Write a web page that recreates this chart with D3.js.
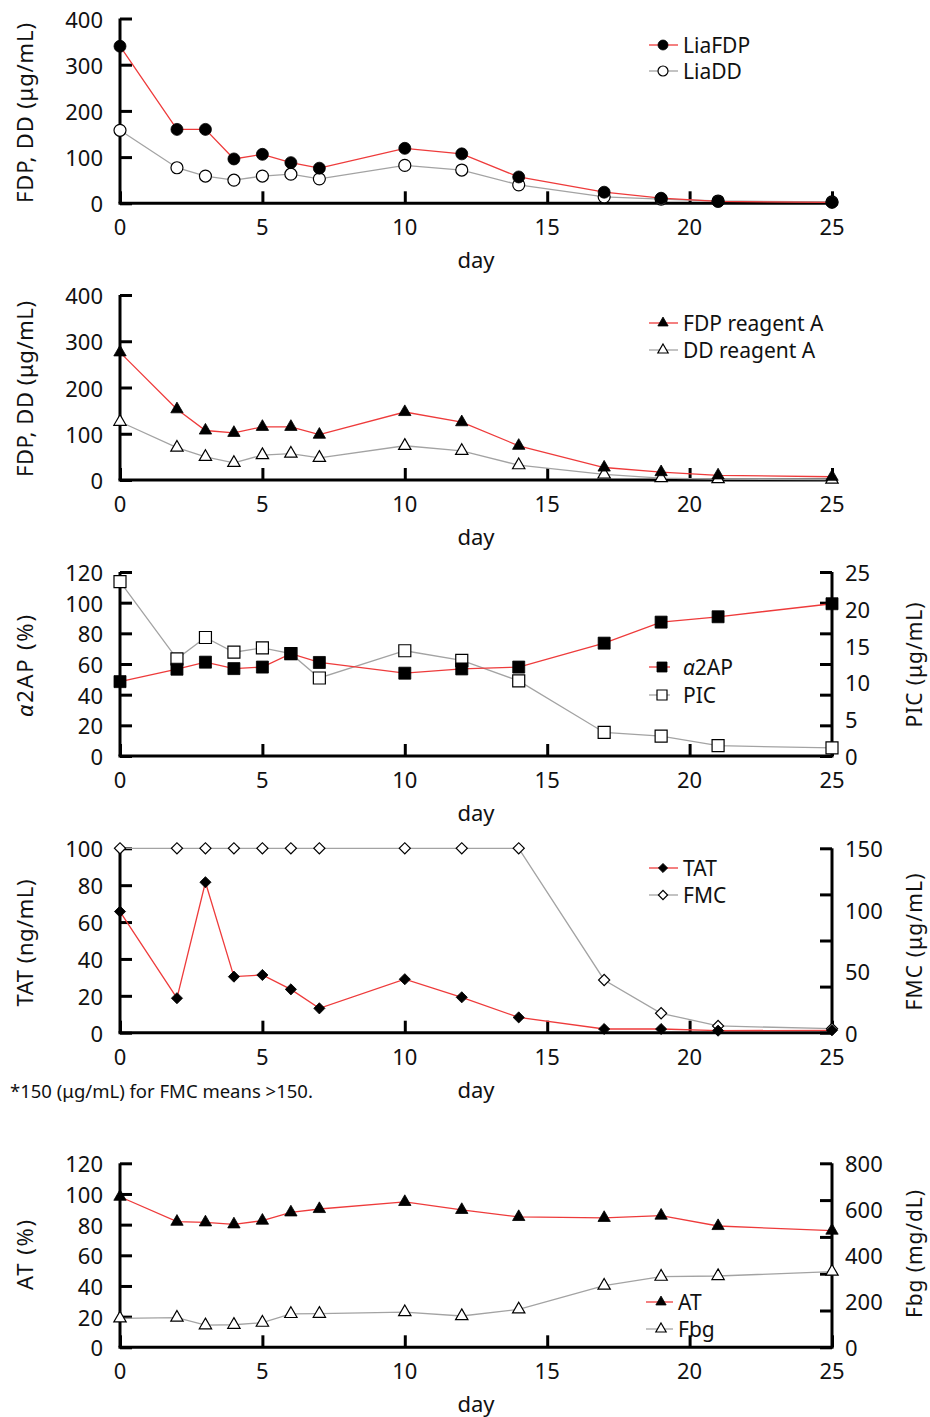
<!DOCTYPE html>
<html><head><meta charset="utf-8">
<script src="https://cdn.jsdelivr.net/npm/d3@7"></script>
<style>
body{margin:0;background:#fff}
text{font-family:"Noto Sans",sans-serif;fill:#111}
</style>
</head><body>
<svg id="c" width="930" height="1417"></svg>
<script>
// ---------- data ----------
const days = [0,2,3,4,5,6,7,10,12,14,17,19,21,25];
const xTickValues = [0,5,10,15,20,25];

const liaFDP = [340,160,160,96,106,88,76,119,107,57,24,11,4,2];
const liaDD  = [158,77,59,50,59,63,53,82,72,40,14,9,5,3];

const fdpReagentA = [276,153,107,102,115,115,98,147,125,74,27,17,10,7];
const ddReagentA  = [126,70,50,37,54,57,48,74,63,32,12,4,2,1];

const a2AP = [48.5,56.6,61.2,57,58,66.8,61,54,56.8,58,73.6,87.3,90.8,99.3];
const pic  = [23.7,13.2,16.1,14.1,14.7,13.9,10.6,14.3,13,10.2,3.2,2.7,1.4,1.1];

const tat = [65.7,18.7,81.6,30.4,31.3,23.5,13.2,29,19.2,8.3,2,2,1.1,1.3];
const fmc = [150,150,150,150,150,150,150,150,150,150,42.9,15.8,5.5,3.3];

const at  = [98.2,81.9,81.5,80.2,82.6,88,90.2,94.8,89.6,85,84.4,85.9,79.1,76.1];
const fbg = [126,129,96,98,107,145,146,153,136,165,268,307,310,329];

const ticksFDP = [0,100,200,300,400];
const ticks120 = [0,20,40,60,80,100,120];
const ticks100 = [0,20,40,60,80,100];
const ticksPIC = [0,5,10,15,20,25];
const ticksFMC = [0,50,100,150];
const ticksFbg = [0,200,400,600,800];

// ---------- layout ----------
const RED = "#ee3b3b", GRAY = "#a3a3a3";
const X0 = 120, X1 = 832, FS = 22;
const svg = d3.select("#c");
const x = d3.scaleLinear().domain([0,25]).range([X0, X1]);

const panels = [
  {top:18.5, bottom:203.3, left:[0,400], lt:ticksFDP, ylabel:"FDP, DD (μg/mL)", ylY:113, ylLen:180,
   series:[{name:"LiaDD", v:liaDD, c:GRAY, m:"circle", f:false},
           {name:"LiaFDP", v:liaFDP, c:RED, m:"circle", f:true}],
   leg:{x1:649,x2:678,mx:663,tx:683,y:[45,71]}, legOrder:[1,0]},
  {top:295, bottom:480, left:[0,400], lt:ticksFDP, ylabel:"FDP, DD (μg/mL)", ylY:389, ylLen:176,
   series:[{name:"DD reagent A", v:ddReagentA, c:GRAY, m:"tri", f:false},
           {name:"FDP reagent A", v:fdpReagentA, c:RED, m:"tri", f:true}],
   leg:{x1:649,x2:678,mx:663,tx:683,y:[323,350]}, legOrder:[1,0]},
  {top:572, bottom:756, left:[0,120], lt:ticks120, right:[0,25], rt:ticksPIC, rdiv:6,
   ylabel:"α2AP (%)", ylY:666, ylLen:102, rlabel:"PIC (μg/mL)", rlY:665, rlLen:125,
   series:[{name:"PIC", v:pic, c:GRAY, m:"square", f:false, ax:"r"},
           {name:"α2AP", v:a2AP, c:RED, m:"square", f:true}],
   leg:{x1:649,x2:670,mx:662,tx:683,y:[667,695]}, legOrder:[1,0]},
  {top:848.3, bottom:1032.7, left:[0,100], lt:ticks100, right:[0,150], rt:ticksFMC, rdiv:4,
   ylabel:"TAT (ng/mL)", ylY:943, ylLen:127, rlabel:"FMC (μg/mL)", rlY:942, rlLen:137,
   series:[{name:"FMC", v:fmc, c:GRAY, m:"diamond", f:false, ax:"r"},
           {name:"TAT", v:tat, c:RED, m:"diamond", f:true}],
   leg:{x1:649,x2:678,mx:663,tx:683,y:[868,895]}, legOrder:[1,0]},
  {top:1163.3, bottom:1347.3, left:[0,120], lt:ticks120, right:[0,800], rt:ticksFbg, rdiv:5,
   ylabel:"AT (%)", ylY:1255, ylLen:70, rlabel:"Fbg (mg/dL)", rlY:1254, rlLen:128,
   series:[{name:"Fbg", v:fbg, c:GRAY, m:"tri", f:false, ax:"r"},
           {name:"AT", v:at, c:RED, m:"tri", f:true}],
   leg:{x1:646,x2:673,mx:661,tx:678,y:[1302,1329]}, legOrder:[1,0]}
];

function markerPath(m, big){
  if(m==="circle") return d3.symbol(d3.symbolCircle, big?113:78)();
  if(m==="square") return d3.symbol(d3.symbolSquare, big?144:100)();
  if(m==="tri") return d3.symbol(d3.symbolTriangle, big?66:46)();
  if(m==="diamond") return d3.symbol(d3.symbolSquare, big?62:42)();
}
function drawMarker(g, m, filled, cx, cy, big){
  g.append("path").attr("d", markerPath(m, big))
    .attr("transform", `translate(${cx},${cy})` + (m==="diamond"?" rotate(45)":""))
    .attr("fill", filled?"#000":"#fff").attr("stroke","#000").attr("stroke-width", filled?0.8:1.2);
}
function labelText(sel, s){
  if(s.startsWith("α")){
    sel.append("tspan").attr("font-style","italic").text("α");
    sel.append("tspan").text(s.slice(1));
  } else sel.text(s);
}

panels.forEach(p=>{
  const g = svg.append("g");
  const yL = d3.scaleLinear().domain(p.left).range([p.bottom, p.top]);
  const yR = p.right ? d3.scaleLinear().domain(p.right).range([p.bottom, p.top]) : null;

  // left axis
  const la = g.append("g").attr("transform",`translate(${X0},0)`)
    .call(d3.axisRight(yL).tickValues(p.lt).tickSize(12).tickFormat(""));
  la.select(".domain").attr("stroke","#000").attr("stroke-width",3).attr("d",`M0,${p.top}V${p.bottom}`);
  la.selectAll(".tick line").attr("stroke","#000").attr("stroke-width",3);
  g.selectAll(".ltl").data(p.lt).enter().append("text")
    .attr("x",103).attr("y",d=>yL(d)).attr("text-anchor","end").attr("dominant-baseline","central")
    .attr("font-size",FS).text(d=>d);

  // right axis
  if(yR){
    const divs = d3.range(p.rdiv+1).map(i=>p.right[0]+(p.right[1]-p.right[0])*i/p.rdiv);
    const ra = g.append("g").attr("transform",`translate(${X1},0)`)
      .call(d3.axisLeft(yR).tickValues(divs).tickSize(12).tickFormat(""));
    ra.select(".domain").attr("stroke","#000").attr("stroke-width",3).attr("d",`M0,${p.top}V${p.bottom}`);
    ra.selectAll(".tick line").attr("stroke","#000").attr("stroke-width",3);
    g.selectAll(".rtl").data(p.rt).enter().append("text")
      .attr("x",845).attr("y",d=>yR(d)).attr("dominant-baseline","central")
      .attr("font-size",FS).text(d=>d);
    g.append("text").attr("transform",`translate(914,${p.rlY}) rotate(-90)`)
      .attr("text-anchor","middle").attr("dominant-baseline","central").attr("font-size",21)
      .attr("textLength",p.rlLen).attr("lengthAdjust","spacing").text(p.rlabel);
  }

  // x axis
  const xa = g.append("g").attr("transform",`translate(0,${p.bottom})`)
    .call(d3.axisTop(x).tickValues(xTickValues).tickSize(12).tickFormat(""));
  xa.select(".domain").attr("stroke","#000").attr("stroke-width",3).attr("d",`M${X0-1.5},0H${X1+1.5}`);
  xa.selectAll(".tick line").attr("stroke","#000").attr("stroke-width",3);
  g.selectAll(".xtl").data(xTickValues).enter().append("text")
    .attr("x",d=>x(d)).attr("y",p.bottom+32).attr("text-anchor","middle")
    .attr("font-size",FS).text(d=>d);
  g.append("text").attr("x",476).attr("y",p.bottom+65).attr("text-anchor","middle")
    .attr("font-size",FS).text("day");

  // y label
  const yl = g.append("text").attr("transform",`translate(24,${p.ylY}) rotate(-90)`)
    .attr("text-anchor","middle").attr("dominant-baseline","central").attr("font-size",FS)
    .attr("textLength",p.ylLen).attr("lengthAdjust","spacing");
  labelText(yl, p.ylabel);

  // series lines
  p.series.forEach(s=>{
    const ys = s.ax==="r" ? yR : yL;
    g.append("path").datum(s.v)
      .attr("d", d3.line().x((d,i)=>x(days[i])).y(d=>ys(d)))
      .attr("fill","none").attr("stroke",s.c).attr("stroke-width",1.3);
  });
  p.series.forEach(s=>{
    const ys = s.ax==="r" ? yR : yL;
    s.v.forEach((d,i)=>drawMarker(g, s.m, s.f, x(days[i]), ys(d), true));
  });

  // legend
  p.legOrder.forEach((si,k)=>{
    const s = p.series[si], L = p.leg, y = L.y[k];
    g.append("line").attr("x1",L.x1).attr("x2",L.x2).attr("y1",y).attr("y2",y)
      .attr("stroke",s.c).attr("stroke-width",1.3);
    drawMarker(g, s.m, s.f, L.mx, y, false);
    const t = g.append("text").attr("x",L.tx).attr("y",y).attr("dominant-baseline","central").attr("font-size",21);
    labelText(t, s.name);
  });
});

svg.append("text").attr("x",10).attr("y",1098).attr("font-size",18.5)
  .text("*150 (μg/mL) for FMC means >150.");
</script>
</body></html>
